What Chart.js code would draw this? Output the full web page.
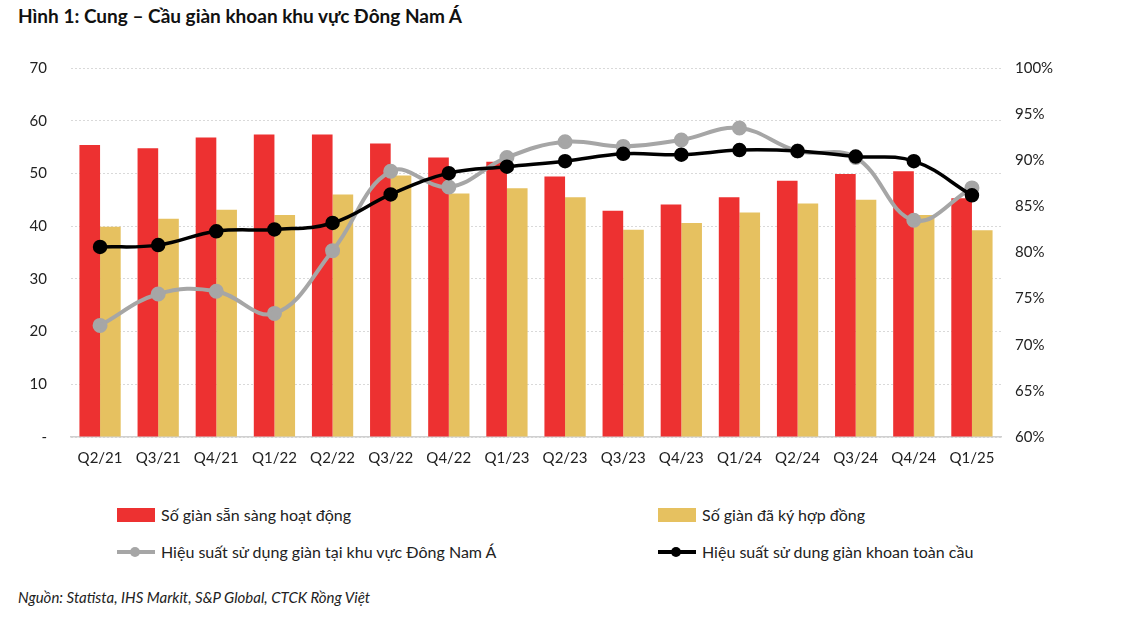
<!DOCTYPE html>
<html>
<head>
<meta charset="utf-8">
<script src="https://cdn.jsdelivr.net/npm/chart.js"></script>
<style>
  body { margin: 0; width: 1125px; height: 638px; background: #fff; font-family: Lato, 'Open Sans', sans-serif; position: relative; overflow: hidden; }
  #title { position: absolute; left: 18px; top: 4px; font-size: 19px; font-weight: bold; color: #111; }
  #wrap { position: absolute; left: 0; top: 35px; width: 1125px; height: 445px; }
  .leg { position: absolute; font-size: 16px; color: #222; display: flex; align-items: center; }
  .sw { width: 38px; height: 14px; margin-right: 6px; }
  .ln { width: 38px; height: 14px; margin-right: 6px; position: relative; }
  .ln i { position: absolute; left: 0; right: 0; top: 5px; height: 4px; }
  .ln b { position: absolute; left: 13px; top: 2px; width: 10px; height: 10px; border-radius: 50%; }
  #src { position: absolute; left: 18px; top: 588px; font-size: 15px; font-style: italic; color: #222; }
</style>
</head>
<body>
<div id="title">Hình 1: Cung – Cầu giàn khoan khu vực Đông Nam Á</div>
<div id="wrap"><canvas id="c"></canvas></div>

<div class="leg" style="left:117px; top:505px"><span class="sw" style="background:#ED3131"></span>Số giàn sẵn sàng hoạt động</div>
<div class="leg" style="left:658px; top:505px"><span class="sw" style="background:#E6C160"></span>Số giàn đã ký hợp đồng</div>
<div class="leg" style="left:117px; top:542px"><span class="ln"><i style="background:#A6A6A6"></i><b style="background:#A6A6A6"></b></span>Hiệu suất sử dụng giàn tại khu vực Đông Nam Á</div>
<div class="leg" style="left:658px; top:542px"><span class="ln"><i style="background:#000"></i><b style="background:#000"></b></span>Hiệu suất sử dung giàn khoan toàn cầu</div>
<div id="src">Nguồn: Statista, IHS Markit, S&amp;P Global, CTCK Rồng Việt</div>

<script>
// Dữ liệu
const quarters = ['Q2/21', 'Q3/21', 'Q4/21', 'Q1/22', 'Q2/22', 'Q3/22', 'Q4/22', 'Q1/23',
  'Q2/23', 'Q3/23', 'Q4/23', 'Q1/24', 'Q2/24', 'Q3/24', 'Q4/24', 'Q1/25']
const availableRigs = [55.4, 54.8, 56.8, 57.4, 57.4, 55.7, 53.0, 52.2, 49.4, 42.9, 44.1, 45.5, 48.6, 49.9, 50.4, 45.3]
const contractedRigs = [39.9, 41.4, 43.1, 42.1, 46.0, 49.6, 46.2, 47.2, 45.5, 39.3, 40.6, 42.6, 44.3, 45.0, 42.1, 39.2]
const seaUtilization = [72.1, 75.5, 75.8, 73.4, 80.2, 88.8, 87.1, 90.3, 92.0, 91.5, 92.2, 93.5, 91.0, 90.3, 83.5, 87.0]
const globalUtilization = [80.6, 80.8, 82.3, 82.5, 83.2, 86.3, 88.6, 89.3, 89.9, 90.7, 90.6, 91.1, 91.0, 90.4, 89.9, 86.2]

const tickFont = { family: 'Lato, "Open Sans", sans-serif', size: 15 }
const tickColor = '#222'

const ctx = document.getElementById('c').getContext('2d')
new Chart(ctx, {
  type: 'bar',
  data: {
    labels: quarters,
    datasets: [
      {
        type: 'line',
        label: 'Hiệu suất sử dung giàn khoan toàn cầu',
        data: globalUtilization,
        yAxisID: 'y1',
        borderColor: '#000',
        backgroundColor: '#000',
        borderWidth: 3.5,
        pointRadius: 5.5,
        tension: 0.4,
        order: 0
      },
      {
        type: 'line',
        label: 'Hiệu suất sử dụng giàn tại khu vực Đông Nam Á',
        data: seaUtilization,
        yAxisID: 'y1',
        borderColor: '#A6A6A6',
        backgroundColor: '#A6A6A6',
        borderWidth: 4,
        pointRadius: 5.5,
        tension: 0.4,
        order: 1
      },
      {
        label: 'Số giàn sẵn sàng hoạt động',
        data: availableRigs,
        yAxisID: 'y',
        backgroundColor: '#ED3131',
        categoryPercentage: 0.71,
        barPercentage: 1,
        order: 2
      },
      {
        label: 'Số giàn đã ký hợp đồng',
        data: contractedRigs,
        yAxisID: 'y',
        backgroundColor: '#E6C160',
        categoryPercentage: 0.71,
        barPercentage: 1,
        order: 3
      }
    ]
  },
  options: {
    responsive: true,
    maintainAspectRatio: false,
    animation: false,
    layout: { padding: { top: 22, left: 0, right: 0, bottom: 0 } },
    plugins: { legend: { display: false }, tooltip: { enabled: false } },
    scales: {
      x: {
        grid: { display: false, drawTicks: false },
        border: { display: true, color: '#D0D0D0', width: 1.5 },
        ticks: { font: tickFont, color: tickColor, padding: 12 },
        afterFit: s => { s.height = 43 }
      },
      y: {
        position: 'left',
        min: 0,
        max: 70,
        ticks: {
          stepSize: 10,
          font: tickFont,
          color: tickColor,
          padding: 24,
          callback: v => v === 0 ? '-' : v
        },
        grid: { color: '#D9D9D9', drawTicks: false, lineWidth: 1 },
        border: { display: false, dash: [2, 2] },
        afterFit: s => { s.width = 71 }
      },
      y1: {
        position: 'right',
        min: 60,
        max: 100,
        ticks: {
          stepSize: 5,
          font: tickFont,
          color: tickColor,
          padding: 14,
          callback: v => v + '%'
        },
        grid: { display: false, drawTicks: false },
        border: { display: false },
        afterFit: s => { s.width = 124 }
      }
    }
  }
})
</script>
</body>
</html>
